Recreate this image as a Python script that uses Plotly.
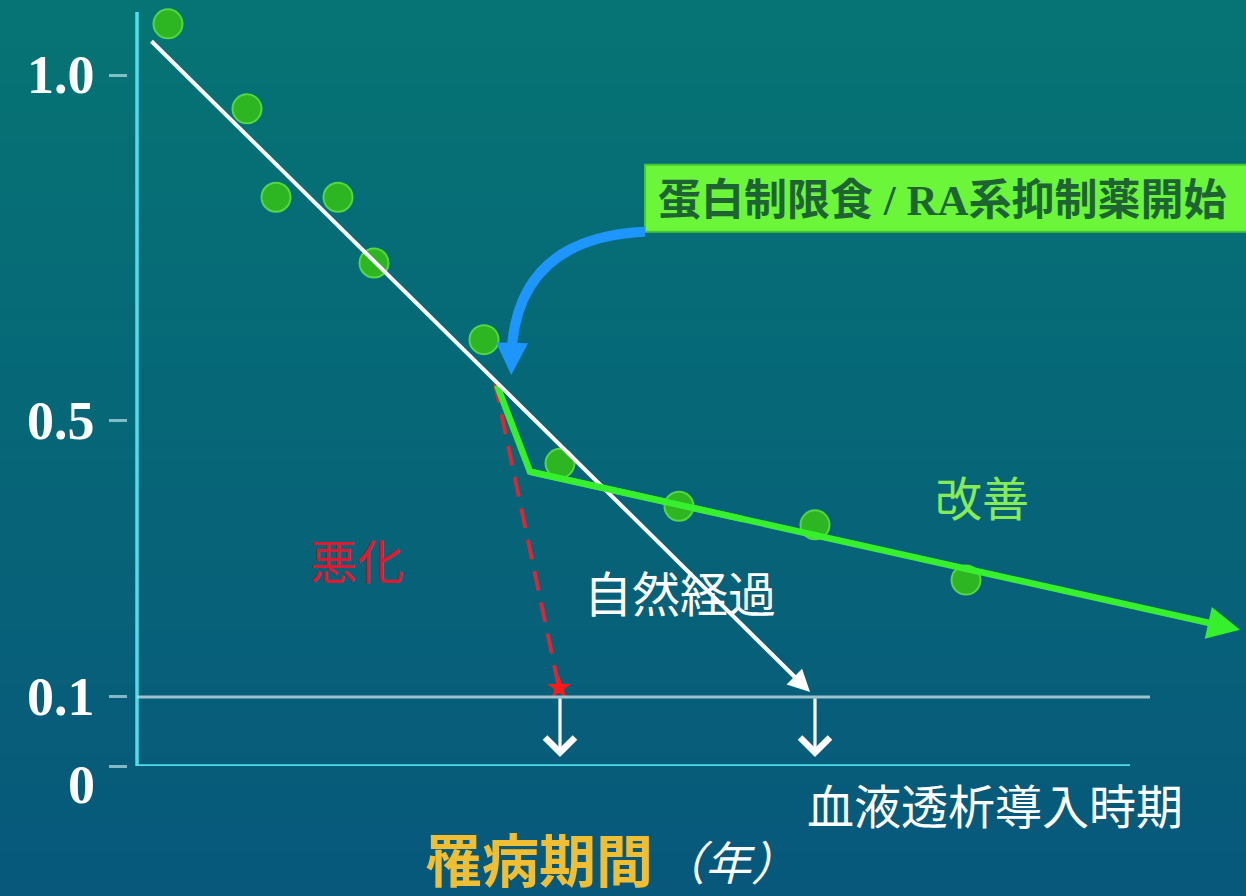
import plotly.graph_objects as go

# ---- data ----
years = [0.31, 1.10, 1.39, 2.01, 2.37, 3.47, 4.23, 5.42, 6.78, 8.29]
ratio = [1.074, 0.951, 0.823, 0.823, 0.728, 0.617, 0.438, 0.376, 0.349, 0.269]

natural_x = [0.13, 6.73]
natural_y = [1.051, 0.107]
improved_x = [3.60, 3.93, 11.03]
improved_y = [0.551, 0.426, 0.197]
worse_x = [3.58, 4.22]
worse_y = [0.554, 0.113]
dialysis_x = [4.23, 6.78]
threshold = 0.1

tick_vals = [0, 0.1, 0.5, 1.0]
tick_labels = ["0", "0.1", "0.5", "1.0"]

W, H = 1246, 896
ML, MB = 128, 130
X_MIN, X_MAX = -0.09, 11.09
PX_PER_Y = 691
Y_MAX = (H - MB) / PX_PER_Y

SERIF = "Liberation Serif, Noto Sans CJK JP"

fig = go.Figure()

plot_w = W - ML
plot_h = H - MB


def px_to_paper(px, py):
    return (px - ML) / plot_w, (plot_h - py) / plot_h


# ---- background gradient (strips) ----
top = (6, 116, 116)
bot = (7, 88, 123)
n = 64
shapes = []
for k in range(n):
    p0 = k * H / n
    p1 = (k + 1) * H / n
    t = (k + 0.5) / n
    c = tuple(round(top[i] + (bot[i] - top[i]) * t) for i in range(3))
    shapes.append(dict(type="rect", xref="paper", yref="paper",
                       x0=-0.2, x1=1.2,
                       y0=(plot_h - p1) / plot_h - 0.001, y1=(plot_h - p0) / plot_h + 0.001,
                       fillcolor=f"rgb{c}", line=dict(width=0), layer="below"))

# axes lines
axis_col = "rgb(80,220,236)"
shapes.append(dict(type="line", x0=0, x1=0, y0=0, y1=1.091, xref="x", yref="y",
                   line=dict(color=axis_col, width=3.5)))
shapes.append(dict(type="line", x0=0, x1=9.93, y0=0, y1=0, xref="x", yref="y",
                   line=dict(color=axis_col, width=3.5)))
# threshold line
shapes.append(dict(type="line", x0=0, x1=10.13, y0=threshold, y1=threshold,
                   xref="x", yref="y", line=dict(color="rgba(195,220,228,0.8)", width=3)))
# label box
shapes.append(dict(type="rect", x0=5.08, x1=11.2, y0=0.773, y1=0.870, xref="x", yref="y",
                   fillcolor="rgb(108,246,58)", line=dict(color="rgb(70,200,50)", width=2)))
# blue curved callout
shapes.append(dict(type="path", xref="x", yref="y",
                   path="M 5.08,0.773 Q 3.86,0.765 3.752,0.612",
                   line=dict(color="rgb(30,150,255)", width=10)))

# ---- traces ----
fig.add_trace(go.Scatter(x=worse_x, y=worse_y, mode="lines",
                         line=dict(color="rgb(215,40,55)", width=4, dash="20px,12px"),
                         hoverinfo="skip", showlegend=False))
fig.add_trace(go.Scatter(x=[worse_x[-1]], y=[worse_y[-1]], mode="markers",
                         marker=dict(symbol="star", size=18, color="rgb(255,25,25)"),
                         hoverinfo="skip", showlegend=False))

# green first part (up to just past the elbow)
gx = improved_x[:2] + [improved_x[1] + 0.3 * (improved_x[2] - improved_x[1])]
gy = improved_y[:2] + [improved_y[1] + 0.3 * (improved_y[2] - improved_y[1])]
fig.add_trace(go.Scatter(x=gx, y=gy, mode="lines",
                         line=dict(color="rgb(55,240,45)", width=6.5),
                         hoverinfo="skip", showlegend=False))

fig.add_trace(go.Scatter(x=years, y=ratio, mode="markers",
                         marker=dict(size=29, color="rgb(45,182,33)",
                                     line=dict(color="rgb(85,215,65)", width=2)),
                         hoverinfo="skip", showlegend=False))

annotations = []
# white natural course arrow
annotations.append(dict(x=natural_x[1], y=natural_y[1], ax=natural_x[0], ay=natural_y[0],
                        xref="x", yref="y", axref="x", ayref="y", text="",
                        showarrow=True, arrowhead=2, arrowwidth=4, arrowsize=1.1,
                        arrowcolor="white"))
# green improved arrow
annotations.append(dict(x=improved_x[2], y=improved_y[2], ax=improved_x[1], ay=improved_y[1],
                        xref="x", yref="y", axref="x", ayref="y", text="",
                        showarrow=True, arrowhead=2, arrowwidth=6.5, arrowsize=1.0,
                        arrowcolor="rgb(55,240,45)"))
# blue arrow head
annotations.append(dict(x=3.742, y=0.566, ax=3.752, ay=0.62,
                        xref="x", yref="y", axref="x", ayref="y", text="",
                        showarrow=True, arrowhead=2, arrowwidth=8, arrowsize=0.8,
                        arrowcolor="rgb(30,150,255)"))
# down arrows to dialysis
for dx in dialysis_x:
    annotations.append(dict(x=dx, y=0.013, ax=dx, ay=threshold,
                            xref="x", yref="y", axref="x", ayref="y", text="",
                            showarrow=True, arrowhead=4, arrowwidth=3.2, arrowsize=1.8,
                            arrowcolor="white"))

# tick labels (paper coords so they can sit outside the plot area)
for v, lab in zip(tick_vals, tick_labels):
    py = plot_h - v * PX_PER_Y + (19 if v == 0 else 0)
    px_, py_ = px_to_paper(97, py)
    annotations.append(dict(x=px_, y=py_, xref="paper", yref="paper", text=f"<b>{lab}</b>",
                            showarrow=False, xanchor="right", yanchor="middle",
                            font=dict(family="Liberation Serif", size=54, color="white")))


def txt(x, y, s, size, color, family=SERIF):
    annotations.append(dict(x=x, y=y, xref="x", yref="y", text=s, showarrow=False,
                            xanchor="center", yanchor="middle",
                            font=dict(family=family, size=size, color=color)))


def ptxt(px, py, s, size, color, family=SERIF):
    x, y = px_to_paper(px, py)
    annotations.append(dict(x=x, y=y, xref="paper", yref="paper", text=s, showarrow=False,
                            xanchor="center", yanchor="middle",
                            font=dict(family=family, size=size, color=color)))


txt(8.05, 0.819, "<b>蛋白制限食 / RA系抑制薬開始</b>", 43, "rgb(30,100,50)")
txt(2.20, 0.294, "悪化", 47, "rgb(222,25,50)")
txt(5.43, 0.247, "自然経過", 48, "white")
txt(8.45, 0.385, "改善", 47, "rgb(135,235,85)")
ptxt(995, 808, "血液透析導入時期", 47, "white")
ptxt(539, 862, "<b>罹病期間</b>", 57, "rgb(240,190,50)")
ptxt(728, 865, "<i>（年）</i>", 46, "white")

fig.update_layout(
    width=W, height=H,
    margin=dict(l=ML, r=0, t=0, b=MB, pad=0),
    paper_bgcolor="rgb(7,102,120)",
    plot_bgcolor="rgba(0,0,0,0)",
    shapes=shapes,
    annotations=annotations,
    showlegend=False,
    xaxis=dict(range=[X_MIN, X_MAX], showgrid=False, zeroline=False,
               showticklabels=False, showline=False, ticks=""),
    yaxis=dict(range=[0, Y_MAX], showgrid=False, zeroline=False, showline=False,
               tickmode="array", tickvals=tick_vals, ticktext=tick_labels,
               showticklabels=False, ticks="outside", ticklen=18, tickwidth=2.5,
               tickcolor="rgba(175,215,225,0.75)"),
)

fig.write_html("out.html")
